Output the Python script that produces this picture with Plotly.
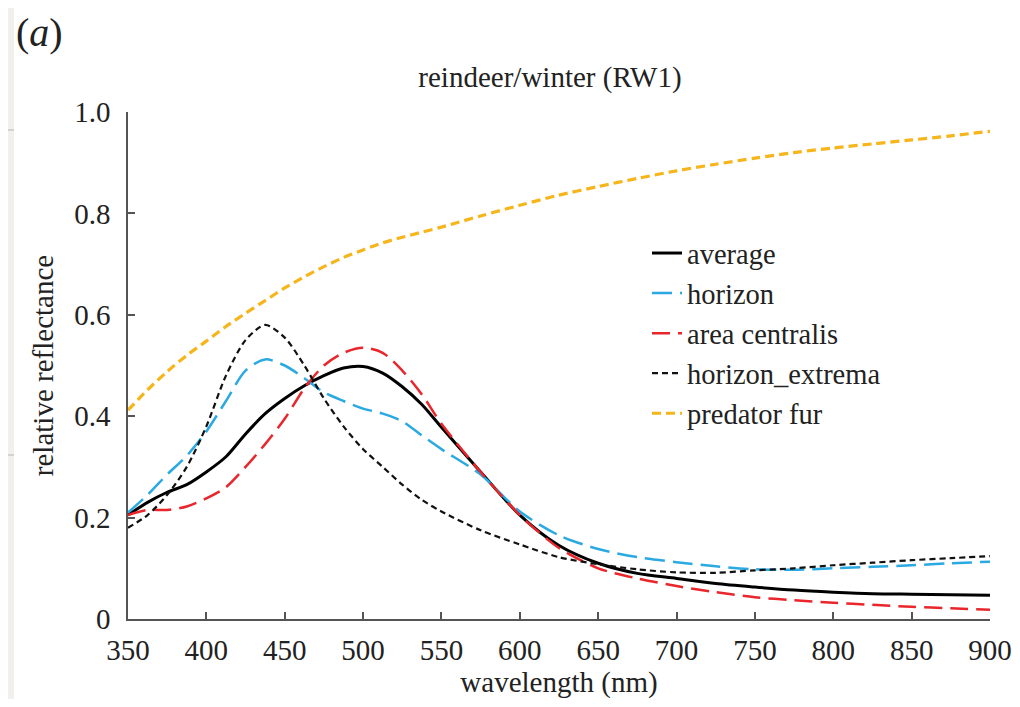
import plotly.graph_objects as go

wavelength = [350, 362.5, 375, 387.5, 400, 412.5, 425, 437.5, 450, 462.5, 475, 487.5,
              500, 512.5, 525, 537.5, 550, 575, 600, 625, 650, 675, 700, 725, 750,
              775, 800, 825, 850, 875, 900]

average = [0.205, 0.23, 0.25, 0.265, 0.29, 0.32, 0.365, 0.405, 0.435, 0.46, 0.48, 0.495,
           0.498, 0.485, 0.458, 0.423, 0.378, 0.29, 0.205, 0.145, 0.11, 0.09, 0.08, 0.07,
           0.063, 0.057, 0.053, 0.05, 0.049, 0.048, 0.047]

horizon = [0.21, 0.245, 0.285, 0.322, 0.37, 0.43, 0.49, 0.512, 0.50, 0.475, 0.447, 0.43,
           0.415, 0.405, 0.39, 0.362, 0.335, 0.285, 0.212, 0.165, 0.138, 0.122, 0.112, 0.104,
           0.098, 0.097, 0.10, 0.103, 0.106, 0.11, 0.113]

area_centralis = [0.205, 0.215, 0.215, 0.222, 0.238, 0.26, 0.30, 0.345, 0.395, 0.455, 0.50,
                  0.525, 0.535, 0.525, 0.49, 0.443, 0.385, 0.29, 0.205, 0.14, 0.10, 0.08,
                  0.065, 0.053, 0.043, 0.037, 0.032, 0.028, 0.024, 0.021, 0.018]

horizon_extrema = [0.18, 0.205, 0.245, 0.30, 0.38, 0.48, 0.55, 0.58, 0.555, 0.50, 0.435,
                   0.38, 0.335, 0.30, 0.265, 0.235, 0.212, 0.175, 0.147, 0.122, 0.108, 0.098,
                   0.092, 0.091, 0.096, 0.10, 0.106, 0.111, 0.116, 0.12, 0.124]

predator_fur = [0.412, 0.452, 0.488, 0.52, 0.548, 0.577, 0.603, 0.628, 0.653, 0.675, 0.695,
                0.713, 0.728, 0.742, 0.753, 0.763, 0.773, 0.795, 0.816, 0.836, 0.853, 0.869,
                0.884, 0.897, 0.909, 0.92, 0.929, 0.937, 0.945, 0.953, 0.962]

x_ticks = [350, 400, 450, 500, 550, 600, 650, 700, 750, 800, 850, 900]
y_ticks = [0, 0.2, 0.4, 0.6, 0.8, 1.0]
y_ticktext = ["0", "0.2", "0.4", "0.6", "0.8", "1.0"]

FONT = "Liberation Serif, Times New Roman, Times, serif"
TXT = "#222222"

series = [
    ("average", average, dict(color="#000000", width=3, dash="solid")),
    ("horizon", horizon, dict(color="#2ba9e1", width=2.5, dash="20px,8px")),
    ("area centralis", area_centralis, dict(color="#e8262b", width=2.5, dash="18px,8px")),
    ("horizon_extrema", horizon_extrema, dict(color="#111111", width=2.2, dash="6px,4px")),
    ("predator fur", predator_fur, dict(color="#f5b51b", width=3.2, dash="9px,5px")),
]

fig = go.Figure()
for name, vals, line in series:
    fig.add_trace(go.Scatter(
        x=wavelength, y=vals, mode="lines", name=name,
        line=dict(shape="spline", smoothing=0.8, **line),
    ))

# figure geometry (page has an 8px body margin)
W, H = 1004, 691
L, T = 120, 104
PW, PH = 862, 507
R = W - L - PW
B = H - T - PH

def fx(px):  # figure px -> x paper
    return (px - L) / PW

def fy(py):  # figure px -> y paper
    return (T + PH - py) / PH

fig.update_layout(
    width=W, height=H,
    margin=dict(l=L, r=R, t=T, b=B, autoexpand=False),
    paper_bgcolor="white", plot_bgcolor="white",
    font=dict(family=FONT, color=TXT),
    title=dict(text="reindeer/winter (RW1)", x=542 / W, xanchor="center",
               y=1 - 69 / H, yanchor="middle", font=dict(size=29, family=FONT, color=TXT),
               automargin=False),
    showlegend=True,
    legend=dict(x=fx(639), y=fy(220), xanchor="left", yanchor="top",
                bgcolor="rgba(0,0,0,0)", font=dict(size=28.5, family=FONT, color=TXT),
                itemwidth=30, tracegroupgap=0),
    xaxis=dict(range=[350, 900], tickvals=x_ticks, ticks="inside", ticklen=7,
               tickcolor="#555", tickwidth=1.5, showline=True, linecolor="#555",
               linewidth=1.5, showgrid=False, zeroline=False, ticklabelstandoff=4,
               automargin=False,
               tickfont=dict(size=29, family=FONT, color=TXT),
               title=dict(text="wavelength (nm)", font=dict(size=29, family=FONT, color=TXT),
                          standoff=12)),
    yaxis=dict(range=[0, 1.0], tickvals=y_ticks, ticktext=y_ticktext, ticks="inside",
               ticklen=7, tickcolor="#555", tickwidth=1.5, showline=True, linecolor="#555",
               linewidth=1.5, showgrid=False, zeroline=False, ticklabelstandoff=10,
               automargin=False,
               tickfont=dict(size=29, family=FONT, color=TXT),
               title=dict(text="relative reflectance",
                          font=dict(size=29, family=FONT, color=TXT), standoff=12)),
)

# left beige strip and decorative lines
fig.add_shape(type="rect", xref="paper", yref="paper",
              x0=fx(0), x1=fx(6), y0=fy(H), y1=fy(0),
              fillcolor="#f2f0ec", line=dict(width=0), layer="below")
for ypx in (122, 447):
    fig.add_shape(type="line", xref="paper", yref="paper",
                  x0=fx(0), x1=fx(6), y0=fy(ypx), y1=fy(ypx),
                  line=dict(color="#c8c8c8", width=1.5))

fig.add_annotation(text="(<i>a</i>)", xref="paper", yref="paper",
                   x=fx(6), y=fy(24), xanchor="left", yanchor="middle",
                   showarrow=False, font=dict(size=40, family=FONT, color=TXT))

fig.write_html("out.html")
